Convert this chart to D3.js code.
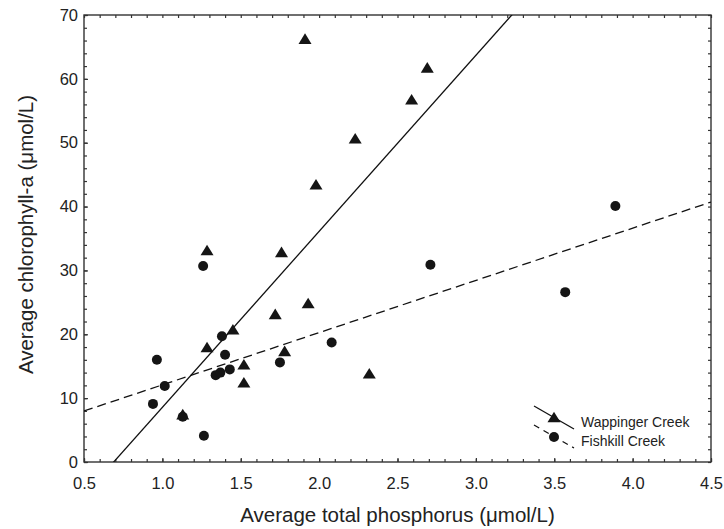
<!DOCTYPE html>
<html>
<head>
<meta charset="utf-8">
<script src="https://cdn.jsdelivr.net/npm/d3@7"></script>
<style>
  html, body { margin: 0; padding: 0; background: #fff; }
  svg { display: block; font-family: "Liberation Sans", Arial, Helvetica, sans-serif; }
</style>
</head>
<body>
<svg id="chart" width="724" height="529"></svg>
<script>
// ---- Data ----
const wappingerX = [1.91, 2.23, 1.98, 1.76, 1.285, 2.69, 2.59, 1.285, 1.45, 1.72, 1.93, 1.52, 1.52, 1.78, 1.13, 2.32];
const wappingerY = [66.3, 50.7, 43.5, 32.9, 33.2, 61.8, 56.8, 18.0, 20.8, 23.2, 24.9, 15.3, 12.5, 17.4, 7.5, 13.9];
const fishkillX = [1.26, 3.89, 2.71, 3.57, 1.38, 0.965, 1.40, 1.015, 0.94, 1.13, 1.265, 1.34, 1.37, 1.43, 1.75, 2.08];
const fishkillY = [30.7, 40.1, 30.9, 26.6, 19.7, 16.0, 16.8, 11.9, 9.1, 7.1, 4.1, 13.6, 14.0, 14.5, 15.6, 18.7];
// regression lines: [slope, intercept]
const wappingerFit = [27.56, -19.0];
const fishkillFit = [8.18, 3.9];
const seriesNames = ["Wappinger Creek", "Fishkill Creek"];
const xTicks = [0.5, 1.0, 1.5, 2.0, 2.5, 3.0, 3.5, 4.0, 4.5];
const yTicks = [0, 10, 20, 30, 40, 50, 60, 70];
const xTitle = "Average total phosphorus (\u03bcmol/L)";
const yTitle = "Average chlorophyll-a (\u03bcmol/L)";

// ---- Layout ----
const svg = d3.select("#chart");
const L = 84, R = 711, T = 15, B = 462;
const x = d3.scaleLinear().domain([0.5, 4.5]).range([L, R]);
const y = d3.scaleLinear().domain([0, 70]).range([B, T]);
const axisColor = "#333";

// clip
svg.append("defs").append("clipPath").attr("id", "clip")
  .append("rect").attr("x", L).attr("y", T).attr("width", R - L).attr("height", B - T);

// minor ticks arrays
const xMinor = d3.range(0.5, 4.5001, 0.1);
const yMinor = d3.range(0, 70.001, 2);

function tickAxis(g, axis) {
  g.call(axis);
  g.select(".domain").remove();
  g.selectAll("line").attr("stroke", axisColor).attr("stroke-width", 1.2);
}

svg.append("g").attr("transform", `translate(0,${B})`)
  .call(g => tickAxis(g, d3.axisBottom(x).tickValues(xMinor).tickSize(-3).tickFormat("")));
svg.append("g").attr("transform", `translate(0,${T})`)
  .call(g => tickAxis(g, d3.axisTop(x).tickValues(xMinor).tickSize(-3).tickFormat("")));
svg.append("g").attr("transform", `translate(${L},0)`)
  .call(g => tickAxis(g, d3.axisLeft(y).tickValues(yMinor).tickSize(-3).tickFormat("")));
svg.append("g").attr("transform", `translate(${R},0)`)
  .call(g => tickAxis(g, d3.axisRight(y).tickValues(yMinor).tickSize(-3).tickFormat("")));

// Labeled axes (major)
const xAxisG = svg.append("g").attr("transform", `translate(0,${B})`)
  .call(d3.axisBottom(x).tickValues(xTicks).tickSize(-4).tickPadding(10).tickFormat(d3.format(".1f")));
xAxisG.select(".domain").remove();
xAxisG.selectAll("line").attr("stroke", axisColor).attr("stroke-width", 1.2);
xAxisG.selectAll("text").attr("font-size", 16.5).attr("fill", "#222")
  .attr("font-family", "Liberation Sans, Arial, sans-serif").attr("dy", "0.71em").attr("y", 15);

const yAxisG = svg.append("g").attr("transform", `translate(${L},0)`)
  .call(d3.axisLeft(y).tickValues(yTicks).tickSize(-4).tickPadding(6).tickFormat(d3.format("d")));
yAxisG.select(".domain").remove();
yAxisG.selectAll("line").attr("stroke", axisColor).attr("stroke-width", 1.2);
yAxisG.selectAll("text").attr("font-size", 16.5).attr("fill", "#222")
  .attr("font-family", "Liberation Sans, Arial, sans-serif");

// Frame
svg.append("rect").attr("x", L).attr("y", T).attr("width", R - L).attr("height", B - T)
  .attr("fill", "none").attr("stroke", axisColor).attr("stroke-width", 1.4);

// Regression lines
const plot = svg.append("g").attr("clip-path", "url(#clip)");
function fitLine(fit, dash) {
  const xs = [0.5, 4.5];
  plot.append("line")
    .attr("x1", x(xs[0])).attr("y1", y(fit[0] * xs[0] + fit[1]))
    .attr("x2", x(xs[1])).attr("y2", y(fit[0] * xs[1] + fit[1]))
    .attr("stroke", "#111").attr("stroke-width", 1.3)
    .attr("stroke-dasharray", dash ? "9,5" : null);
}
fitLine(wappingerFit, false);
fitLine(fishkillFit, true);

// Markers
function triPath(cx, cy) {
  const w = 6.5, h = 5.3;
  return `M${cx},${cy - h}L${cx + w},${cy + h}L${cx - w},${cy + h}Z`;
}
svg.append("g").selectAll("path").data(d3.range(wappingerX.length)).join("path")
  .attr("d", i => triPath(x(wappingerX[i]), y(wappingerY[i])))
  .attr("fill", "#151515");
svg.append("g").selectAll("circle").data(d3.range(fishkillX.length)).join("circle")
  .attr("cx", i => x(fishkillX[i])).attr("cy", i => y(fishkillY[i])).attr("r", 5)
  .attr("fill", "#151515");

// Legend
const lg = svg.append("g");
lg.append("line").attr("x1", 534).attr("y1", 406).attr("x2", 574).attr("y2", 429)
  .attr("stroke", "#111").attr("stroke-width", 1.3);
lg.append("path").attr("d", triPath(554, 417)).attr("fill", "#151515");
lg.append("line").attr("x1", 534).attr("y1", 425).attr("x2", 574).attr("y2", 448)
  .attr("stroke", "#111").attr("stroke-width", 1.3).attr("stroke-dasharray", "6,5");
lg.append("circle").attr("cx", 554).attr("cy", 437).attr("r", 5).attr("fill", "#151515");
lg.append("text").attr("x", 581).attr("y", 427).attr("font-size", 14).attr("fill", "#222").text(seriesNames[0]);
lg.append("text").attr("x", 581).attr("y", 446).attr("font-size", 14).attr("fill", "#222").text(seriesNames[1]);

// Axis titles
svg.append("text").attr("x", (L + R) / 2).attr("y", 522).attr("text-anchor", "middle")
  .attr("font-size", 20.5).attr("fill", "#222").text(xTitle);
svg.append("text").attr("transform", `translate(33,${(T + B) / 2 - 4}) rotate(-90)`)
  .attr("text-anchor", "middle").attr("font-size", 20.5).attr("fill", "#222").text(yTitle);
</script>
</body>
</html>
